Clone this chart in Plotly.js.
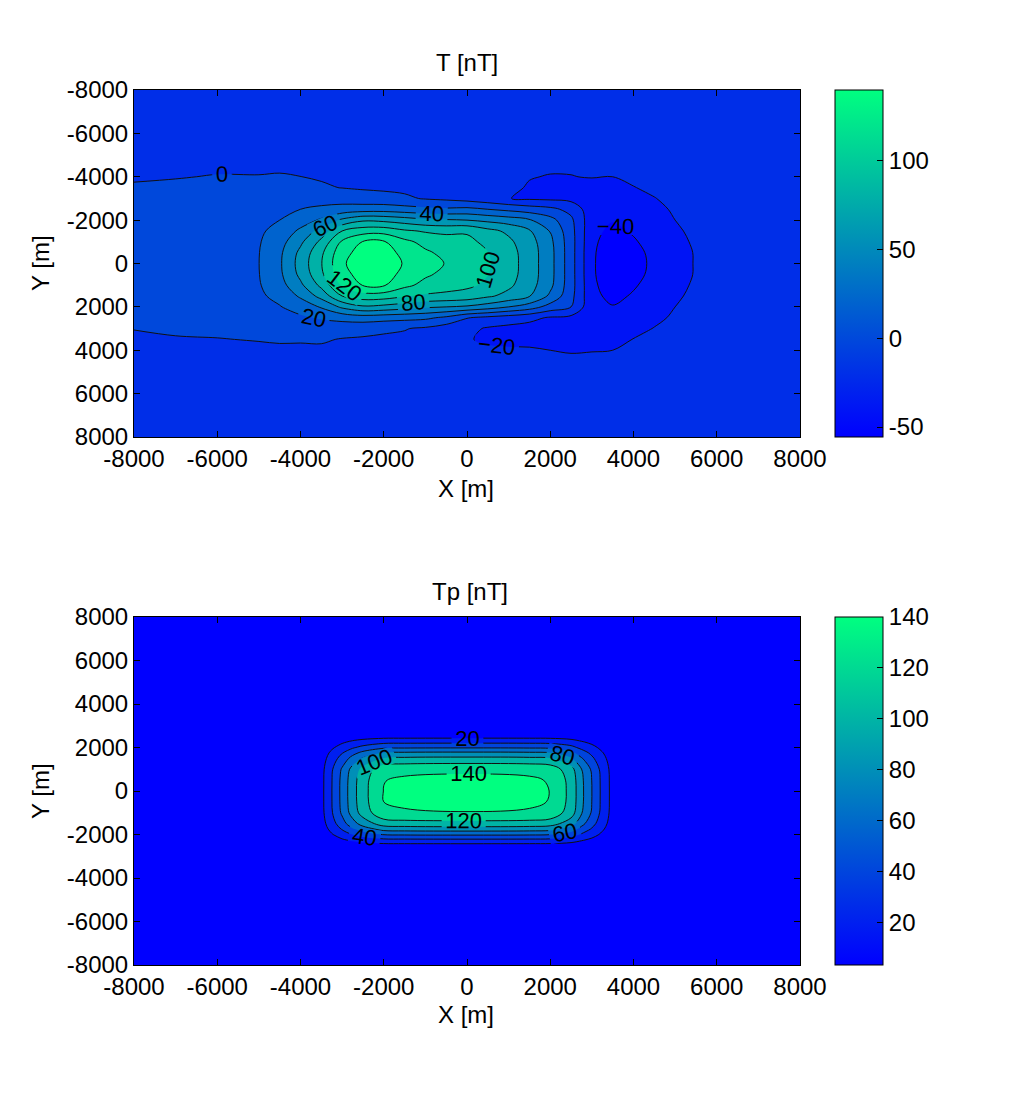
<!DOCTYPE html>
<html>
<head>
<meta charset="utf-8">
<script src="https://cdn.plot.ly/plotly-3.0.1.min.js"></script>
<style>html,body{margin:0;padding:0;background:#fff;}#plot{width:1024px;height:1113px;}</style>
</head>
<body>
<div id="plot"></div>
<script>
// ---------- Top panel: T [nT] (grid columns: one array per x, values along tY) ----------
var tX = [-8000,-7000,-6000,-5000,-4500,-4000,-3500,-3000,-2500,-2000,-1500,-1000,-500,0,500,1000,1500,2000,2500,3000,3500,4000,4500,5000,5500,6000,7000,8000];
var tY = [-8000,-7000,-6000,-5000,-4000,-3500,-3000,-2500,-2000,-1500,-1000,-500,0,500,1000,1500,2000,2500,3000,3500,4000,5000,6000,7000,8000];
var tCols = [
  [-4,-4,-4,-3,-1,1,3,4,5,6,6,7,7,7,6,6,5,3,0.3,-2,-3,-4,-4,-4,-4],
  [-5,-5,-5,-4,-0.5,2,4,6,7,8,9,9,9,9,9,8,7,5,2,-1,-3,-5,-5,-5,-5],
  [-5,-6,-6,-4,0.5,3,6,8,10,12,13,13,13,13,13,12,10,7,3,-0.5,-3,-5,-6,-6,-5],
  [-5,-6,-7,-5,0.5,4,8,12,15,17,18.5,19.5,19.8,19.5,18.5,17,14,10,5,0.7,-3,-6,-6,-6,-5],
  [-5,-6,-7,-5,1,5,10,15,20,26,32,36,37,36,32,25,19,13,7,1.5,-2.5,-6,-6,-6,-5],
  [-5,-6,-7,-5,0.1,6,12,20,30,44,56,65,68,65,56,43,28,17,9,1.5,-3,-6,-6,-6,-5],
  [-5,-6,-7,-5.5,-1.5,2,12,24,43,68,85,96,99,96,85,67,42,22,10,2,-3,-6,-6,-6,-5],
  [-5,-6,-7,-6,-3,-0.5,12,27,64,100,123,134,138,134,123,100,64,26,9,-1,-4,-6,-6,-6,-5],
  [-5,-6,-7,-6,-4,-2,8,30,77,111,141,147,148,147,141,111,77,30,6,-2,-4,-6,-6,-6,-5],
  [-5,-6,-7,-6,-5,-3,6,31,75,112,142,146,147,146,142,110,74,28,3,-3,-5,-6,-6,-6,-5],
  [-5,-6,-7,-6,-5,-4,3,28,70,103,125,136,139,136,125,102,69,26,1,-4,-5,-6,-6,-6,-5],
  [-5,-6,-7,-7,-6,-5,-1.5,25,64,98,114,123,128,123,114,97,63,24,-3,-6,-6,-7,-6,-6,-5],
  [-5,-6,-7,-7,-7,-7,-4,23,62,96,108,115,119,115,108,95,60,16,-10,-12,-10,-8,-7,-6,-5],
  [-5,-6,-7,-8,-9,-10,-8,25,60,98,104,110,112,110,104,92,57,1,-15,-19,-16,-10,-8,-6,-5],
  [-5,-6,-7,-8,-10,-12,-13,20,55,86,96,100.5,102,100.5,96,83,50,-5,-22,-22,-18,-11,-8,-6,-5],
  [-5,-6,-7,-9,-12,-15,-19.5,15,50,76,84,88,89,88,84,74,40,-10,-25,-24,-18,-12,-8,-6,-5],
  [-5,-6,-8,-11,-19,-22,-23,10,42,62,68,70,70,70,68,61,30,-15,-27,-25,-18,-12,-9,-6,-5],
  [-5,-7,-9,-13,-21,-26,-24,5,27,39,45,47,47,47,45,36,12,-22,-30,-27,-20,-13,-9,-7,-5],
  [-6,-7,-10,-15,-20.5,-28,-26,-6,4,7,8,8,8,8,8,6,0,-25,-32,-29,-21,-14,-10,-7,-6],
  [-6,-8,-11,-16,-19,-28,-31,-32,-33,-35,-36,-37,-37,-37,-36,-35,-34,-34,-33,-30,-20.5,-14,-10,-8,-6],
  [-6,-8,-11,-17,-20,-27,-31,-35,-39,-44,-49,-52,-54,-53,-50,-45,-39,-35,-32,-29,-20,-15,-10,-8,-6],
  [-6,-8,-10,-14,-17,-20.5,-26,-30,-34,-38,-42,-46,-47,-46,-42,-38,-34,-29,-24,-19.5,-17,-13,-10,-8,-6],
  [-6,-7,-9,-12,-15,-17,-20.5,-24,-27,-30,-33,-35,-36,-35,-33,-30,-27,-23,-19.5,-17,-15,-12,-9,-7,-6],
  [-6,-7,-8,-10,-12,-14,-16,-18,-20,-22,-24,-25.5,-26,-25.5,-24,-22,-20,-18,-16,-14,-12,-10,-8,-7,-6],
  [-6,-7,-8,-9,-11,-12,-13.5,-15,-16,-17,-18,-19,-19,-19,-18,-17,-16,-15,-13.5,-12,-11,-9,-8,-7,-6],
  [-6,-6,-7,-8,-9,-10,-11,-12,-13,-14,-15,-15,-15,-15,-15,-14,-13,-12,-11,-10,-9,-8,-7,-6,-6],
  [-5,-6,-6,-7,-8,-8,-9,-9,-10,-10,-10,-11,-11,-11,-10,-10,-10,-9,-9,-8,-8,-7,-6,-6,-5],
  [-5,-5,-5,-6,-6,-7,-7,-7,-8,-8,-8,-8,-8,-8,-8,-8,-8,-7,-7,-7,-6,-6,-5,-5,-5]
];
var tLevelStart = -40, tLevelEnd = 140, tLevelStep = 20;
var tCMin = -55.6, tCMax = 140;
var tCbTickVals = [-50, 0, 50, 100];
var tCbTickText = ['-50', '0', '50', '100'];

// ---------- Bottom panel: Tp [nT] (grid rows: one array per y, values along pX) ----------
var pX = [-8000,-5000,-4000,-3500,-3250,-3000,-2750,-2500,-2000,-1500,0,1500,2000,2500,2750,3000,3250,3500,4000,5000,8000];
var pY = [-8000,-5000,-3000,-2500,-2250,-2000,-1750,-1500,-1000,-500,0,500,1000,1500,1750,2000,2250,2500,3000,5000,8000];
var pRows = [
  [3.0,3.0,3.0,3.0,3.1,3.1,3.1,3.2,3.2,3.2,3.2,3.2,3.2,3.2,3.1,3.1,3.0,3.0,3.0,3.0,3.0],
  [3.0,3.0,3.0,3.1,3.3,3.4,3.6,3.8,4.0,4.0,4.0,4.0,4.0,3.8,3.6,3.4,3.2,3.1,3.0,3.0,3.0],
  [3.0,3.0,3.1,3.2,3.8,4.3,4.9,5.3,5.9,6.0,6.0,6.0,5.9,5.3,4.7,4.2,3.7,3.2,3.1,3.0,3.0],
  [3.0,3.1,3.2,3.8,5.6,7.4,9.2,10.7,12.6,12.8,13.0,12.8,12.6,10.8,8.7,7.0,5.2,3.7,3.2,3.1,3.0],
  [3.0,3.2,3.7,5.6,11.5,17.6,23.6,28.5,34.9,35.6,36.0,35.6,34.7,28.8,22.0,16.2,10.4,5.3,3.7,3.2,3.0],
  [3.1,3.4,4.3,7.7,18.4,29.6,40.6,49.5,61.2,62.4,63.0,62.4,60.9,50.0,37.7,27.1,16.5,7.2,4.3,3.4,3.1],
  [3.1,3.6,4.8,9.7,25.4,41.6,57.6,70.4,87.3,89.1,90.0,89.1,86.9,71.0,53.3,37.9,22.6,9.1,4.8,3.6,3.1],
  [3.2,3.8,5.3,11.5,31.3,51.8,72.0,88.3,109.6,111.9,113.0,111.9,109.0,89.0,66.6,47.2,27.8,10.8,5.3,3.8,3.2],
  [3.2,4.0,5.9,13.6,38.1,63.5,88.5,108.7,135.1,138.0,139.5,138.0,134.5,109.7,81.8,57.8,33.8,12.6,5.9,4.0,3.2],
  [3.2,4.0,6.0,14.0,39.4,65.7,91.6,112.6,140.0,143.0,144.4,143.0,139.3,113.6,84.7,59.8,34.9,13.0,6.0,4.0,3.2],
  [3.2,4.0,6.0,14.0,39.5,66.0,92.0,113.0,140.5,143.5,145.0,143.5,139.8,114.0,85.0,60.0,35.0,13.0,6.0,4.0,3.2],
  [3.2,4.0,6.0,13.9,39.2,65.6,91.4,112.2,139.5,142.5,144.0,142.5,138.8,113.2,84.4,59.6,34.8,12.9,6.0,4.0,3.2],
  [3.2,3.9,5.8,13.4,37.5,62.5,87.0,106.8,132.8,135.6,137.0,135.6,132.1,107.8,80.4,56.8,33.2,12.4,5.8,3.9,3.2],
  [3.1,3.7,5.2,10.9,29.2,48.2,66.9,82.0,101.7,103.9,105.0,103.9,101.2,82.7,61.9,43.9,26.0,10.2,5.2,3.7,3.1],
  [3.1,3.6,4.7,9.3,23.8,38.9,53.7,65.7,81.4,83.1,84.0,83.1,81.0,66.3,49.7,35.5,21.2,8.7,4.7,3.6,3.1],
  [3.1,3.4,4.2,7.3,17.1,27.4,37.4,45.6,56.2,57.4,58.0,57.4,55.9,46.0,34.7,25.1,15.4,6.9,4.2,3.4,3.1],
  [3.0,3.2,3.7,5.5,11.4,17.4,23.4,28.2,34.5,35.2,35.5,35.2,34.3,28.4,21.8,16.1,10.3,5.3,3.7,3.2,3.0],
  [3.0,3.1,3.2,3.8,5.8,7.9,9.9,11.5,13.6,13.8,13.9,13.8,13.5,11.5,9.3,7.4,5.5,3.8,3.2,3.1,3.0],
  [3.0,3.0,3.1,3.2,3.8,4.3,4.9,5.3,5.9,6.0,6.0,6.0,5.9,5.3,4.7,4.2,3.7,3.2,3.1,3.0,3.0],
  [3.0,3.0,3.0,3.1,3.3,3.4,3.6,3.8,4.0,4.0,4.0,4.0,4.0,3.8,3.6,3.4,3.2,3.1,3.0,3.0,3.0],
  [3.0,3.0,3.0,3.0,3.1,3.1,3.1,3.2,3.2,3.2,3.2,3.2,3.2,3.2,3.1,3.1,3.0,3.0,3.0,3.0,3.0]
];
var pLevelStart = 20, pLevelEnd = 140, pLevelStep = 20;
var pCMin = 3.3, pCMax = 140;
var pCbTickVals = [20, 40, 60, 80, 100, 120, 140];
var pCbTickText = ['20', '40', '60', '80', '100', '120', '140'];

// ---------- Shared axis ticks ----------
var axisTickVals = [-8000, -6000, -4000, -2000, 0, 2000, 4000, 6000, 8000];
var axisTickText = ['-8000', '-6000', '-4000', '-2000', '0', '2000', '4000', '6000', '8000'];

// ---------- Styling helpers ----------
var FONT = 'Liberation Sans, Arial, Helvetica, sans-serif';
var FS = 24;
function winter(t) {
  t = Math.max(0, Math.min(1, t));
  return 'rgb(0,' + Math.round(255 * t) + ',' + Math.round(255 * (1 - 0.5 * t)) + ')';
}
var winterScale = [[0, winter(0)], [1, winter(1)]];
// MATLAB-style flat band colours: each band takes the colour of its lower level
function bandScale(start, end, step, cmin, cmax) {
  var n = Math.round((end - start) / step) + 1;
  var sc = [[0, winter(0)]];
  for (var k = 1; k <= n; k++) {
    var L = start + (k - 1) * step;
    sc.push([k / n, winter((L - cmin) / (cmax - cmin))]);
  }
  return sc;
}

var W = 1024, H = 1113;
function px2x(p) { return p / W; }
function py2y(p) { return 1 - p / H; }

var topDom = [py2y(437), py2y(90)];
var botDom = [py2y(965), py2y(617)];

function cbar(dom, vals, txt) {
  return {
    x: px2x(835), xanchor: 'left', xpad: 0,
    y: (dom[0] + dom[1]) / 2, yanchor: 'middle', ypad: 0,
    len: dom[1] - dom[0], lenmode: 'fraction',
    thickness: 48, thicknessmode: 'pixels',
    outlinewidth: 1, outlinecolor: '#000',
    borderwidth: 0,
    ticks: 'inside', ticklen: 6, tickcolor: '#000',
    tickmode: 'array', tickvals: vals, ticktext: txt,
    tickfont: {family: FONT, size: FS, color: '#000'}
  };
}

var traces = [
  {
    type: 'heatmap', x: tX, y: tY, z: tCols, transpose: true,
    zmin: tCMin, zmax: tCMax, colorscale: winterScale,
    showscale: true, colorbar: cbar(topDom, tCbTickVals, tCbTickText),
    hoverinfo: 'skip', xaxis: 'x', yaxis: 'y'
  },
  {
    type: 'contour', x: tX, y: tY, z: tCols, transpose: true,
    autocontour: false,
    contours: {start: tLevelStart, end: tLevelEnd, size: tLevelStep, coloring: 'fill',
               showlabels: true, labelfont: {family: FONT, size: 22, color: '#000'}},
    colorscale: bandScale(tLevelStart, tLevelEnd, tLevelStep, tCMin, tCMax),
    line: {color: '#111', width: 1, smoothing: 1},
    showscale: false, hoverinfo: 'skip', xaxis: 'x', yaxis: 'y'
  },
  {
    type: 'heatmap', x: pX, y: pY, z: pRows,
    zmin: pCMin, zmax: pCMax, colorscale: winterScale,
    showscale: true, colorbar: cbar(botDom, pCbTickVals, pCbTickText),
    hoverinfo: 'skip', xaxis: 'x2', yaxis: 'y2'
  },
  {
    type: 'contour', x: pX, y: pY, z: pRows,
    autocontour: false,
    contours: {start: pLevelStart, end: pLevelEnd, size: pLevelStep, coloring: 'fill',
               showlabels: true, labelfont: {family: FONT, size: 22, color: '#000'}},
    colorscale: bandScale(pLevelStart, pLevelEnd, pLevelStep, pCMin, pCMax),
    line: {color: '#111', width: 1, smoothing: 1},
    showscale: false, hoverinfo: 'skip', xaxis: 'x2', yaxis: 'y2'
  }
];

function axisBase(extra) {
  var a = {
    showline: true, linecolor: '#000', linewidth: 1, mirror: 'ticks',
    ticks: 'inside', ticklen: 6, tickcolor: '#000', tickwidth: 1,
    showgrid: false, zeroline: false,
    tickmode: 'array', tickvals: axisTickVals, ticktext: axisTickText,
    tickfont: {family: FONT, size: FS, color: '#000'},
    fixedrange: true
  };
  for (var k in extra) a[k] = extra[k];
  return a;
}

function ann(text, xp, yp, rot) {
  return {text: text, x: px2x(xp), y: py2y(yp), xref: 'paper', yref: 'paper',
          xanchor: 'center', yanchor: 'middle', showarrow: false, textangle: rot || 0,
          font: {family: FONT, size: FS, color: '#000'}};
}

var layout = {
  width: W, height: H,
  margin: {l: 0, r: 0, t: 0, b: 0, pad: 0},
  paper_bgcolor: '#fff', plot_bgcolor: '#fff',
  showlegend: false,
  xaxis: axisBase({domain: [px2x(134), px2x(800)], range: [-8000, 8000], anchor: 'y'}),
  yaxis: axisBase({domain: topDom, range: [8000, -8000], anchor: 'x'}),
  xaxis2: axisBase({domain: [px2x(134), px2x(800)], range: [-8000, 8000], anchor: 'y2'}),
  yaxis2: axisBase({domain: botDom, range: [-8000, 8000], anchor: 'x2'}),
  annotations: [
    ann('T [nT]', 467, 63),
    ann('X [m]', 466, 488),
    ann('Y [m]', 40, 263, -90),
    ann('Tp [nT]', 470, 591),
    ann('X [m]', 466, 1014),
    ann('Y [m]', 40, 791, -90)
  ]
};

Plotly.newPlot('plot', traces, layout, {displayModeBar: false, staticPlot: true});
</script>
</body>
</html>
